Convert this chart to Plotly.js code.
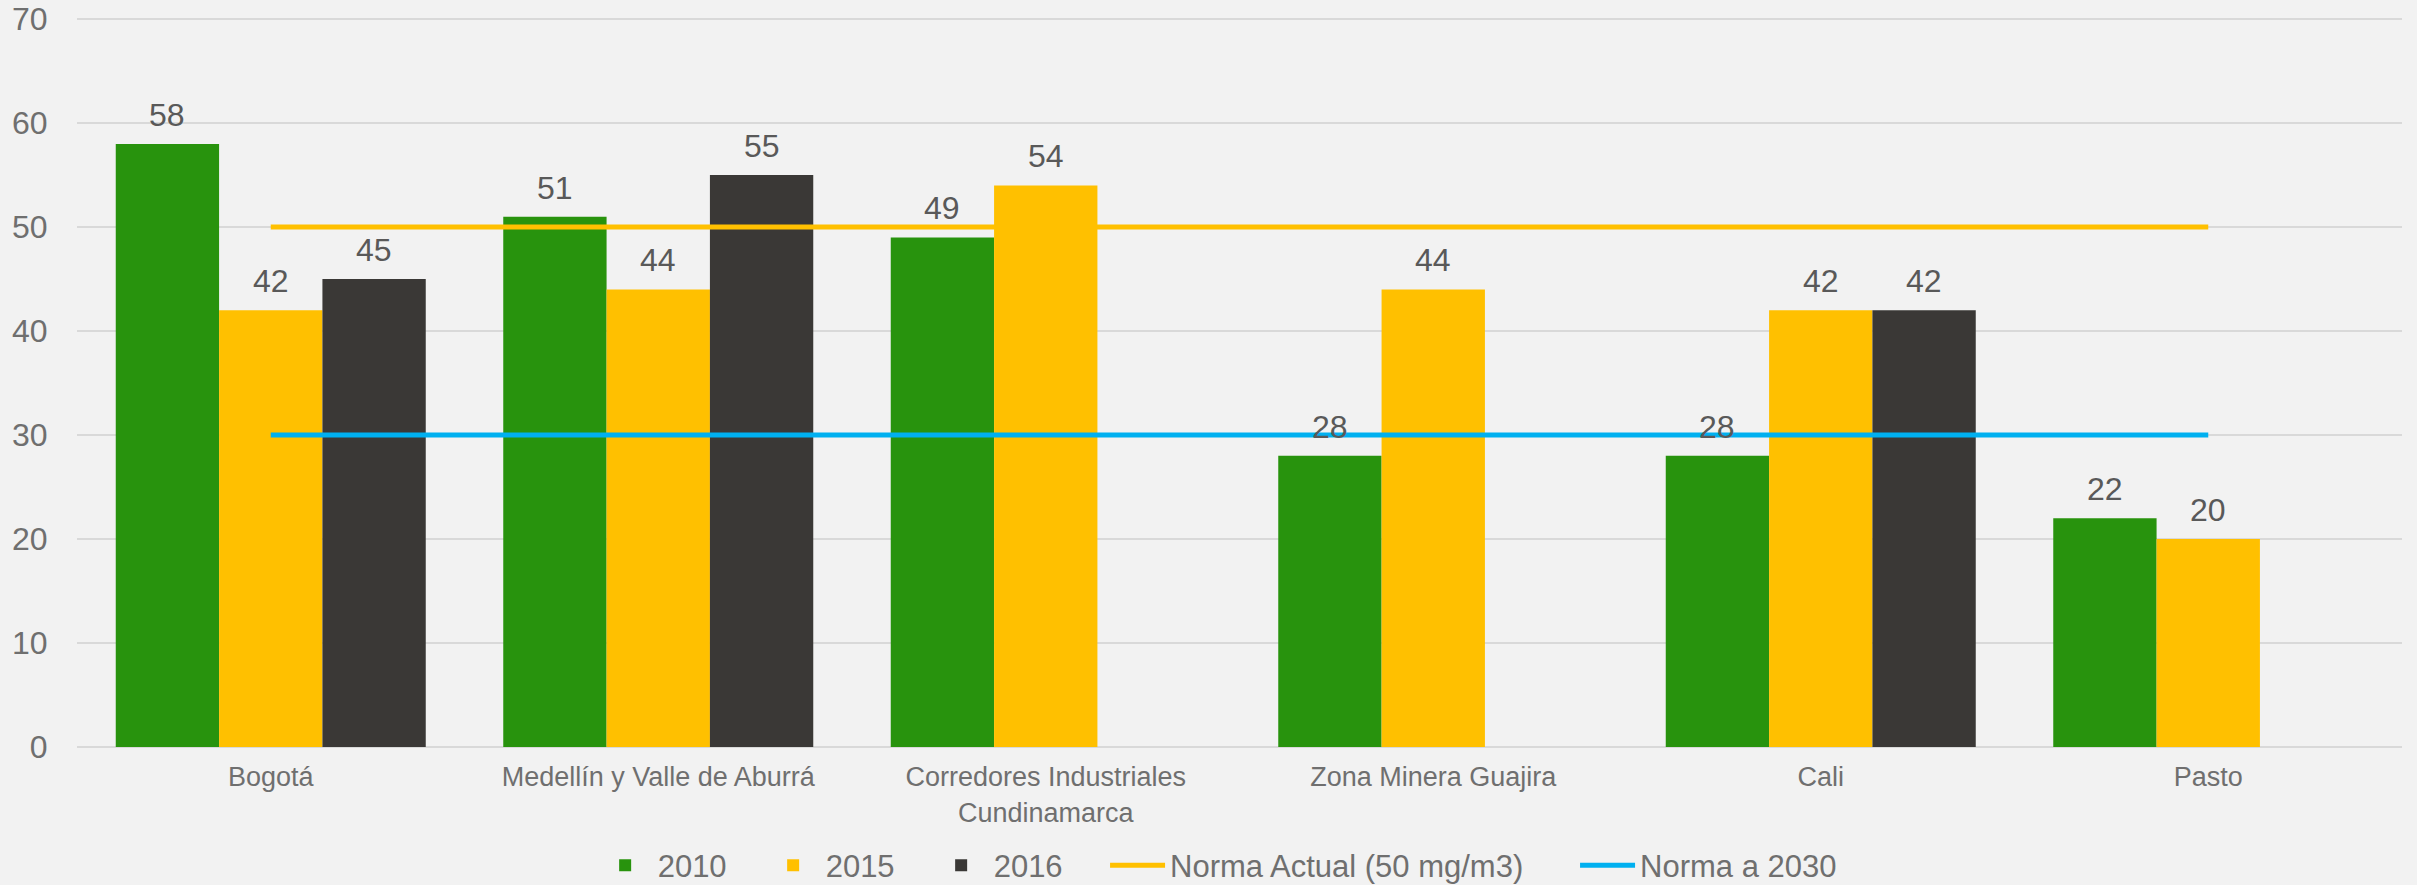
<!DOCTYPE html>
<html>
<head>
<meta charset="utf-8">
<script src="https://cdn.plot.ly/plotly-3.0.1.min.js"></script>
<style>html,body{margin:0;padding:0;background:#F2F2F2;}#chart{width:2417px;height:885px;}</style>
</head>
<body>
<div id="chart"></div>
<script>
const categories = ["Bogotá", "Medellín y Valle de Aburrá", "Corredores Industriales<br>Cundinamarca", "Zona Minera Guajira", "Cali", "Pasto"];
const values2010 = [58, 51, 49, 28, 28, 22];
const values2015 = [42, 44, 54, 44, 42, 20];
const values2016 = [45, 55, null, null, 42, null];
const normaActual = [50, 50, 50, 50, 50, 50];
const norma2030 = [30, 30, 30, 30, 30, 30];
const yTicks = [0, 10, 20, 30, 40, 50, 60, 70];

const W = 2417, H = 885;
const margin = {l: 77, r: 15, t: 16, b: 138};
const bargap = 0.2;
const series = [values2010, values2015, values2016];
const nSeries = series.length;
const slotPx = (W - margin.l - margin.r) / categories.length * (1 - bargap) / nSeries;

const labelFont = {family: "Liberation Sans, Arial, sans-serif", size: 32, color: "#595959"};
function barTrace(name, vals, color) {
  return {
    type: "bar", name: name, x: categories, y: vals,
    marker: {color: color},
    legend: "legend", hoverinfo: "x+y"
  };
}
const data = [
  barTrace("2010", values2010, "#28930D"),
  barTrace("2015", values2015, "#FFC000"),
  barTrace("2016", values2016, "#3A3836"),
  {type: "scatter", mode: "lines", name: "Norma Actual (50 mg/m3)", x: categories, y: normaActual,
   line: {color: "#FFC000", width: 5}, legend: "legend2"},
  {type: "scatter", mode: "lines", name: "Norma a 2030", x: categories, y: norma2030,
   line: {color: "#00B0F0", width: 5}, legend: "legend2"}
];
const annotations = [];
series.forEach((vals, s) => {
  vals.forEach((v, i) => {
    if (v === null) return;
    annotations.push({
      x: categories[i], y: v, xref: "x", yref: "y",
      text: String(v), showarrow: false, font: labelFont,
      xanchor: "center", yanchor: "bottom",
      xshift: (s - (nSeries - 1) / 2) * slotPx, yshift: 9
    });
  });
});
const legendFont = {family: "Liberation Sans, Arial, sans-serif", size: 31, color: "#6F6F6F"};
const layout = {
  width: W, height: H,
  paper_bgcolor: "#F2F2F2", plot_bgcolor: "#F2F2F2",
  margin: margin,
  barmode: "group", bargap: bargap, bargroupgap: 0,
  font: {family: "Liberation Sans, Arial, sans-serif", color: "#6F6F6F"},
  showlegend: true,
  annotations: annotations,
  legend: {orientation: "h", xref: "container", yref: "container", x: 0.2452, xanchor: "left",
           y: 0.022, yanchor: "middle", font: legendFont, bgcolor: "rgba(0,0,0,0)",
           itemwidth: 55, entrywidth: 98, entrywidthmode: "pixels"},
  legend2: {orientation: "h", xref: "container", yref: "container", x: 0.4572, xanchor: "left",
           y: 0.022, yanchor: "middle", font: legendFont, bgcolor: "rgba(0,0,0,0)",
           itemwidth: 55, entrywidth: 400, entrywidthmode: "pixels"},
  xaxis: {type: "category", showgrid: false, showline: false, zeroline: false,
          tickfont: {size: 27, color: "#6F6F6F"}, ticks: "outside", ticklen: 6, tickcolor: "rgba(0,0,0,0)",
          fixedrange: true},
  yaxis: {range: [0, 70.3], tickvals: yTicks, ticktext: yTicks.map(String),
          showgrid: true, gridcolor: "#D9D9D9", gridwidth: 2,
          zeroline: true, zerolinecolor: "#D9D9D9", zerolinewidth: 2,
          showline: false, tickfont: {size: 32, color: "#6F6F6F"},
          ticks: "outside", ticklen: 22, tickcolor: "rgba(0,0,0,0)", fixedrange: true}
};
Plotly.newPlot("chart", data, layout, {displayModeBar: false, staticPlot: true});
</script>
</body>
</html>
